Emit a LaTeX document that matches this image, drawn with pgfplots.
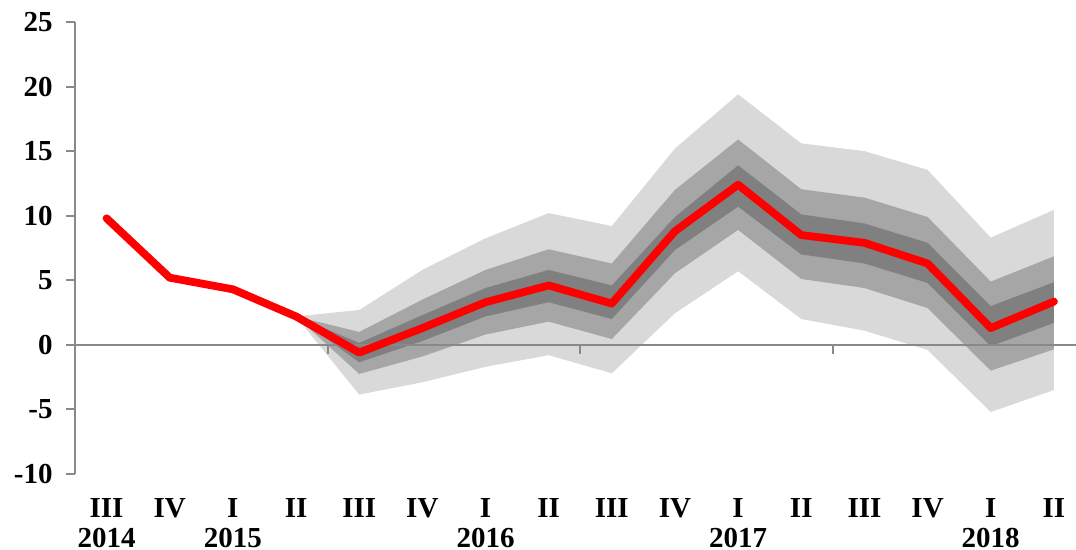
\documentclass[border=0pt]{standalone}
\usepackage{pgfplots}
\pgfplotsset{compat=1.18}
\usepackage{pgfplotstable}
\usepgfplotslibrary{fillbetween}
\usepackage{fontspec}
\setmainfont{Liberation Serif}

\definecolor{fanlight}{HTML}{D9D9D9}
\definecolor{fanmid}{HTML}{A6A6A6}
\definecolor{fandark}{HTML}{808080}
\definecolor{axgray}{HTML}{898989}

% central path
\pgfplotstableread{
x  c
0  9.8
1  5.2
2  4.3
3  2.2
4  -0.6
5  1.3
6  3.3
7  4.6
8  3.2
9  8.8
10 12.4
11 8.5
12 7.9
13 6.3
14 1.3
15 3.35
}\central

% fan bands: dark, mid, outer
\pgfplotstableread{
x  dlo   dhi   mlo   mhi   olo   ohi
3  2.2   2.2   2.2   2.2   2.2   2.2
4  -1.35 0.15  -2.25 1.0   -3.85 2.7
5  0.3   2.3   -0.9  3.5   -2.9  5.8
6  2.2   4.4   0.8   5.8   -1.7  8.25
7  3.3   5.8   1.8   7.4   -0.8  10.2
8  2.0   4.6   0.45  6.3   -2.2  9.2
9  7.35  9.9   5.55  12.0  2.45  15.2
10 10.7  13.9  8.9   15.9  5.7   19.4
11 7.0   10.1  5.1   12.05 2.0   15.6
12 6.3   9.4   4.4   11.4  1.1   15.0
13 4.8   7.9   2.85  9.9   -0.4  13.55
14 -0.1  3.0   -2.0  4.9   -5.2  8.3
15 1.7   4.85  -0.35 6.85  -3.5  10.45
}\fan

\begin{document}
\begin{tikzpicture}
\begin{axis}[
    at={(0,0)}, anchor=south west,
    scale only axis,
    width=500.5pt, height=226pt,
    xmin=-0.5, xmax=15.35,
    ymin=-10, ymax=25,
    axis lines*=left,
    x axis line style={draw=none},
    y axis line style={axgray, line width=1pt},
    xtick={0,...,15},
    xticklabels={{III\\2014},IV,{I\\2015},II,III,IV,{I\\2016},II,III,IV,{I\\2017},II,III,IV,{I\\2018},II},
    xtick style={draw=none},
    xticklabel style={anchor=north, align=center, yshift=-4pt},
    ytick={-10,-5,...,25},
    yticklabels={-10,-5,0,5,10,15,20,25},
    ytick style={axgray, line width=1pt},
    tick align=outside,
    major tick length=4.5pt,
    yticklabel style={anchor=east, inner sep=0pt, xshift=-6.5pt},
    ticklabel style={font=\fontsize{14.5}{15}\selectfont\bfseries},
    clip=false,
]
\addplot[name path=ohi, draw=none] table[x=x, y=ohi] {\fan};
\addplot[name path=olo, draw=none] table[x=x, y=olo] {\fan};
\addplot[name path=mhi, draw=none] table[x=x, y=mhi] {\fan};
\addplot[name path=mlo, draw=none] table[x=x, y=mlo] {\fan};
\addplot[name path=dhi, draw=none] table[x=x, y=dhi] {\fan};
\addplot[name path=dlo, draw=none] table[x=x, y=dlo] {\fan};
\addplot[fanlight, draw=none] fill between[of=ohi and olo];
\addplot[fanmid, draw=none] fill between[of=mhi and mlo];
\addplot[fandark, draw=none] fill between[of=dhi and dlo];

% zero line with year separators
\draw[axgray, line width=1pt] (axis cs:-0.5,0) -- (axis cs:15.35,0);
\draw[axgray, line width=1pt] (axis cs:3.5,0) -- ([yshift=-4.5pt]axis cs:3.5,0);
\draw[axgray, line width=1pt] (axis cs:7.5,0) -- ([yshift=-4.5pt]axis cs:7.5,0);
\draw[axgray, line width=1pt] (axis cs:11.5,0) -- ([yshift=-4.5pt]axis cs:11.5,0);

\addplot[red, line width=3.9pt, line cap=round, line join=round, mark=none]
  table[x=x, y=c] {\central};
\end{axis}
\pgfresetboundingbox
\path (-37.5pt,-38pt) rectangle (500.5pt,237pt);
\end{tikzpicture}
\end{document}
